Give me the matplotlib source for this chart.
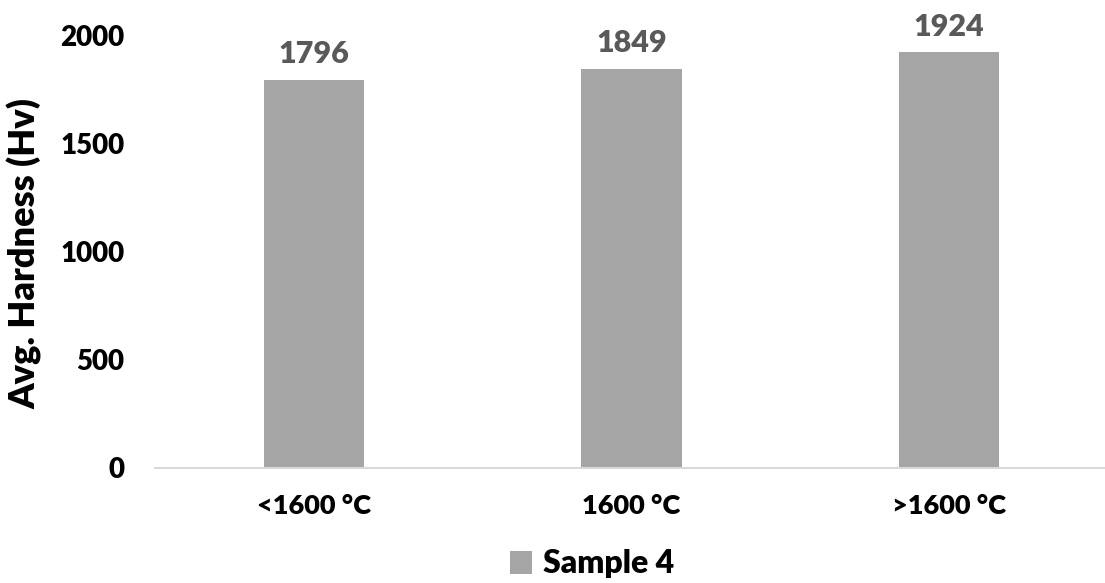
import matplotlib
matplotlib.use("Agg")
import matplotlib.pyplot as plt

categories = ["<1600 °C", "1600 °C", ">1600 °C"]
hardness = [1796, 1849, 1924]
series_name = "Sample 4"

plt.rcParams["font.family"] = ["Lato", "DejaVu Sans"]
plt.rcParams["font.weight"] = "heavy"

BAR = "#a5a5a5"

fig = plt.figure(figsize=(11.05, 5.83), dpi=100)
ax = fig.add_axes([0.1403, 0.1978, 0.8624, 0.7405])

x = range(len(categories))
bars = ax.bar(x, hardness, width=0.315, color=BAR, label=series_name, zorder=2)

# value labels above each bar
for xi, v in zip(x, hardness):
    ax.text(xi, v + 55, f"{v}", ha="center", va="bottom",
            fontsize=22, fontweight="heavy", color="#595959", clip_on=False)

ax.set_xlim(-0.5, len(categories) - 0.5)
ax.set_ylim(0, 2000)
ax.set_yticks([0, 500, 1000, 1500, 2000])
ax.set_xticks(list(x))
ax.set_xticklabels(categories)
ax.tick_params(axis="both", length=0, colors="black")
ax.tick_params(axis="y", labelsize=20, pad=22)
ax.tick_params(axis="x", labelsize=19.5, pad=19)
for lab in ax.get_xticklabels() + ax.get_yticklabels():
    lab.set_fontweight("heavy")

for side in ("top", "right", "left"):
    ax.spines[side].set_visible(False)
ax.spines["bottom"].set_color("#d9d9d9")
ax.spines["bottom"].set_linewidth(1.5)

ax.set_ylabel("Avg. Hardness (Hv)", fontsize=26, fontweight="heavy")
ax.yaxis.set_label_coords(-0.1186, 0.496)

fig.legend(handles=[bars], labels=[series_name], loc="center",
           bbox_to_anchor=(592 / 1105, 1 - 564 / 583), frameon=False,
           handlelength=0.7, handleheight=0.7, handletextpad=0.35,
           prop={"weight": "heavy", "size": 23})

fig.savefig("out.png", dpi=100)
